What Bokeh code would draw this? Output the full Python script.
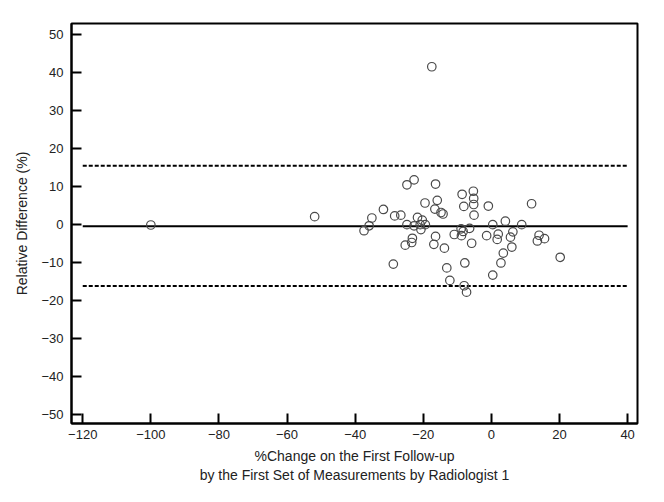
from bokeh.plotting import figure
from bokeh.models import ColumnDataSource, FixedTicker, Range1d
from bokeh.embed import file_html
from bokeh.resources import INLINE

# Bland-Altman style data
pct_change = [-100.0, -51.9, -37.4, -35.9, -35.1, -31.7, -28.8, -28.4, -26.6, -25.3,
              -24.8, -24.8, -23.4, -23.2, -22.7, -22.7, -21.7, -20.9, -20.7, -20.3,
              -19.5, -19.4, -17.5, -16.9, -16.6, -16.4, -16.4, -15.9, -14.8, -14.2,
              -13.8, -13.1, -12.2, -10.9, -8.9, -8.8, -8.6, -8.3, -8.1, -8.0,
              -7.8, -7.3, -6.4, -5.8, -5.3, -5.2, -5.2, -5.1, -1.4, -0.9,
              0.4, 0.4, 1.7, 2.0, 2.8, 3.5, 4.1, 5.6, 6.0, 6.3,
              8.9, 11.8, 13.5, 14.0, 15.6, 20.2]
rel_diff = [-0.1, 2.1, -1.6, -0.3, 1.75, 4.0, -10.4, 2.3, 2.5, -5.4,
            10.5, 0.0, -4.7, -3.6, 11.8, -0.3, 1.9, 0.0, -1.3, 1.2,
            5.7, 0.0, 41.6, -5.2, 4.1, 10.7, -3.1, 6.4, 3.2, 2.8,
            -6.2, -11.4, -14.7, -2.6, -1.1, -2.9, 8.0, -1.8, 4.8, -16.1,
            -10.1, -17.8, -1.0, -4.9, 8.8, 6.9, 5.3, 2.5, -2.9, 4.9,
            0.0, -13.3, -3.9, -2.5, -10.1, -7.5, 0.9, -3.3, -5.9, -1.9,
            0.0, 5.5, -4.3, -2.8, -3.7, -8.6]

line_x = [-120, 40]
mean_diff = -0.4
upper_loa = 15.5
lower_loa = -16.2

x_ticks = [-120, -100, -80, -60, -40, -20, 0, 20, 40]
y_ticks = [-50, -40, -30, -20, -10, 0, 10, 20, 30, 40, 50]

FONT = "Liberation Sans"
TXT = "#222222"

p = figure(width=648, height=486, output_backend="svg", toolbar_location=None,
           x_range=Range1d(-123.3, 42.9), y_range=Range1d(-52.4, 53.0),
           min_border_left=71, min_border_right=11, min_border_top=23,
           min_border_bottom=63)

p.background_fill_color = "white"
p.border_fill_color = "white"
p.grid.visible = False
p.outline_line_color = "black"
p.outline_line_width = 2

# reference lines
p.line(line_x, [mean_diff, mean_diff], line_color="black", line_width=2)
p.line(line_x, [upper_loa, upper_loa], line_color="black", line_width=2, line_dash="4 2")
p.line(line_x, [lower_loa, lower_loa], line_color="black", line_width=2, line_dash="4 2")

src = ColumnDataSource(dict(x=pct_change, y=rel_diff))
p.scatter("x", "y", source=src, size=8.5, fill_color=None, line_color="#4a4a4a",
          line_width=1.2, marker="circle")

for ax in (p.xaxis[0], p.yaxis[0]):
    ax.axis_line_color = "black"
    ax.axis_line_width = 2
    ax.major_tick_in = 10
    ax.major_tick_out = 0
    ax.major_tick_line_color = "black"
    ax.major_tick_line_width = 2
    ax.minor_tick_line_color = None
    ax.major_label_text_font = FONT
    ax.major_label_text_font_size = "13px"
    ax.major_label_text_color = TXT
    ax.axis_label_text_font = FONT
    ax.axis_label_text_font_size = "14px"
    ax.axis_label_text_font_style = "normal"
    ax.axis_label_text_color = TXT

p.xaxis[0].ticker = FixedTicker(ticks=x_ticks)
p.yaxis[0].ticker = FixedTicker(ticks=y_ticks)
p.xaxis[0].major_label_standoff = 6
p.yaxis[0].major_label_standoff = 8
p.xaxis[0].axis_label = "%Change on the First Follow-up\nby the First Set of Measurements by Radiologist 1"
p.xaxis[0].axis_label_standoff = 6
p.yaxis[0].axis_label = "Relative Difference (%)"
p.yaxis[0].axis_label_standoff = 8

open("out.html", "w").write(file_html(p, INLINE))
